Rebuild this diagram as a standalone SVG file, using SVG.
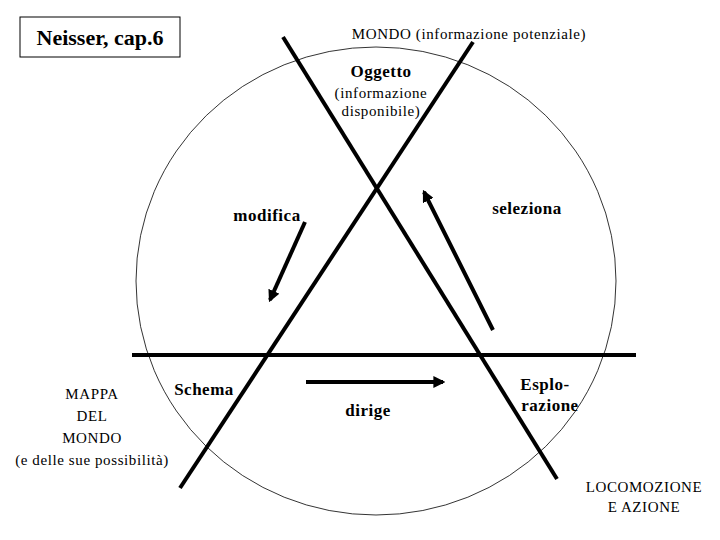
<svg xmlns="http://www.w3.org/2000/svg" width="720" height="540" viewBox="0 0 720 540">
<defs>
<style>
text{font-family:"Liberation Serif","Times New Roman",serif;fill:#000;text-anchor:middle}
.b{font-weight:bold;font-size:17px;letter-spacing:0.5px}
.n{font-size:15px;letter-spacing:0.6px}
.thick{stroke:#000;stroke-width:4;fill:none}
</style>
<marker id="ah" viewBox="0 0 10 10" refX="8" refY="5" markerWidth="3" markerHeight="3" orient="auto"><path d="M0,0L10,5L0,10z" fill="#000"/></marker>
</defs>
<rect width="720" height="540" fill="#fff"/>
<g id="title"><rect x="20" y="17" width="160" height="40" fill="#fff" stroke="#000"/><text x="100" y="45" style="font-size:22px;font-weight:bold">Neisser, cap.6</text></g>
<g id="world"><ellipse cx="376" cy="281" rx="240" ry="234" fill="none" stroke="#000" stroke-width="0.8"/><text x="469" y="39" class="n">MONDO (informazione potenziale)</text></g>
<g id="connectors">
<line class="thick" x1="283" y1="37" x2="557" y2="479"/>
<line class="thick" x1="473" y1="42" x2="180" y2="488"/>
<line class="thick" x1="132" y1="355" x2="636" y2="355"/>
<line class="thick" x1="305" y1="222" x2="270" y2="300" marker-end="url(#ah)"/>
<line class="thick" x1="493" y1="330" x2="424" y2="192" marker-end="url(#ah)"/>
<line class="thick" x1="306" y1="382" x2="443" y2="382" marker-end="url(#ah)"/>
</g>
<g id="oggetto"><text x="381" y="77" class="b">Oggetto</text><text x="381" y="98" class="n">(informazione</text><text x="381" y="116" class="n">disponibile)</text></g>
<g id="modifica"><text x="267" y="221" class="b">modifica</text></g>
<g id="seleziona"><text x="527" y="214" class="b">seleziona</text></g>
<g id="schema"><text x="204" y="395" class="b">Schema</text></g>
<g id="dirige"><text x="368" y="416" class="b">dirige</text></g>
<g id="esplorazione"><text x="545" y="390" class="b">Esplo-</text><text x="550" y="411" class="b">razione</text></g>
<g id="mappa"><text x="92" y="399" class="n">MAPPA</text><text x="92" y="421" class="n">DEL</text><text x="92" y="443" class="n">MONDO</text><text x="92" y="465" class="n">(e delle sue possibilità)</text></g>
<g id="locomozione"><text x="644" y="492" class="n">LOCOMOZIONE</text><text x="644" y="512" class="n">E AZIONE</text></g>
</svg>
